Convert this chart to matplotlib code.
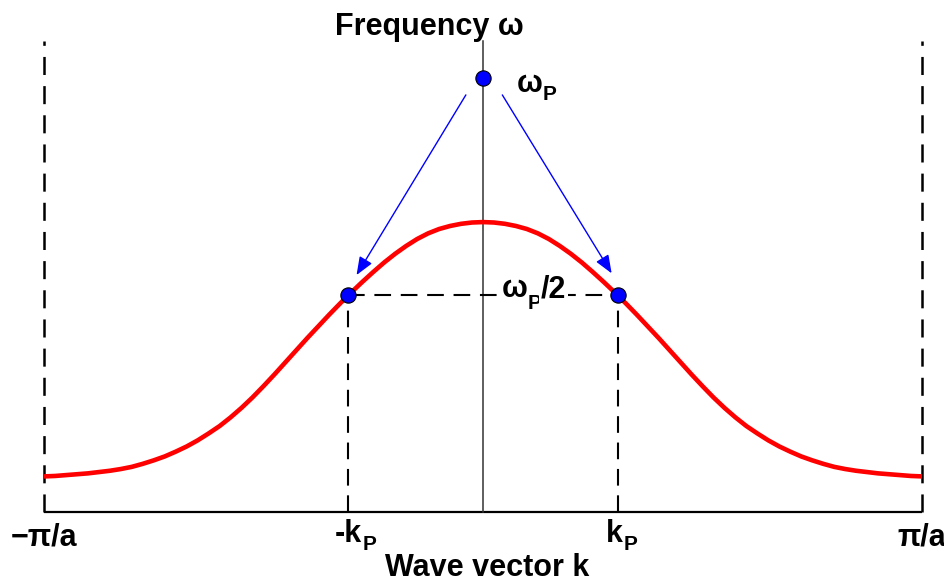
import matplotlib
matplotlib.use("Agg")
import matplotlib.pyplot as plt
from matplotlib.transforms import offset_copy

plt.rcParams["font.family"] = ["Liberation Sans", "DejaVu Sans"]
plt.rcParams["font.weight"] = "bold"
plt.rcParams["lines.scale_dashes"] = False

# Dispersion curve: wave vector in units of pi/a, frequency in units of omega_P
k = [-1.000, -0.975, -0.950, -0.925, -0.900, -0.875, -0.850, -0.825, -0.800, -0.775,
     -0.750, -0.725, -0.700, -0.675, -0.650, -0.625, -0.600, -0.575, -0.550, -0.525,
     -0.500, -0.475, -0.450, -0.425, -0.400, -0.375, -0.350, -0.325, -0.300, -0.275,
     -0.250, -0.225, -0.200, -0.175, -0.150, -0.125, -0.100, -0.075, -0.050, -0.025,
     0.000,
     0.025, 0.050, 0.075, 0.100, 0.125, 0.150, 0.175, 0.200, 0.225, 0.250,
     0.275, 0.300, 0.325, 0.350, 0.375, 0.400, 0.425, 0.450, 0.475, 0.500,
     0.525, 0.550, 0.575, 0.600, 0.625, 0.650, 0.675, 0.700, 0.725, 0.750,
     0.775, 0.800, 0.825, 0.850, 0.875, 0.900, 0.925, 0.950, 0.975, 1.000]
omega = [0.082, 0.083, 0.085, 0.087, 0.089, 0.092, 0.095, 0.099, 0.104, 0.111,
         0.119, 0.128, 0.139, 0.151, 0.165, 0.181, 0.198, 0.218, 0.240, 0.264,
         0.290, 0.317, 0.345, 0.373, 0.401, 0.428, 0.455, 0.481, 0.506, 0.530,
         0.553, 0.575, 0.595, 0.613, 0.629, 0.642, 0.652, 0.659, 0.664, 0.667,
         0.668,
         0.667, 0.664, 0.659, 0.652, 0.642, 0.629, 0.613, 0.595, 0.575, 0.553,
         0.530, 0.506, 0.481, 0.455, 0.428, 0.401, 0.373, 0.345, 0.317, 0.290,
         0.264, 0.240, 0.218, 0.198, 0.181, 0.165, 0.151, 0.139, 0.128, 0.119,
         0.111, 0.104, 0.099, 0.095, 0.092, 0.089, 0.087, 0.085, 0.083, 0.082]

k_P = 0.308
omega_P = 1.0
zone_edge = 1.0

fig = plt.figure(figsize=(9.45, 5.82), dpi=100)
ax = fig.add_axes([0, 0, 1, 1])
ax.set_xlim(-1.1002, 1.0524)
ax.set_ylim(-0.1613, 1.1797)
ax.axis("off")
renderer = fig.canvas.get_renderer()

top = 1.085

# frame: k axis, omega axis, zone boundaries
ax.plot([-zone_edge, zone_edge], [0, 0], color="black", lw=1.6, zorder=2,
        solid_capstyle="butt")
ax.plot([0, 0], [0, top], color="#333333", lw=1.1, zorder=2)
for edge in (-zone_edge, zone_edge):
    ax.plot([edge, edge], [0, top], color="black", lw=1.8,
            dashes=(13, 8), zorder=2)

# guide lines at half plasma frequency
ax.plot([-k_P, k_P], [omega_P / 2, omega_P / 2], color="black", lw=1.5,
        dashes=(12, 7), zorder=2)
for kk in (-k_P, k_P):
    ax.plot([kk, kk], [0, omega_P / 2], color="black", lw=1.5,
            dashes=(12, 7), zorder=2)

# dispersion curve
ax.plot(k, omega, color="#ff0000", lw=3.3, zorder=3,
        solid_capstyle="butt", solid_joinstyle="round")

# decay arrows
arrow = dict(arrowstyle="-|>,head_length=0.55,head_width=0.22",
             color="#0000ff", lw=1.0, mutation_scale=20,
             shrinkA=0, shrinkB=0)
ax.annotate("", xy=(-0.288, 0.546), xytext=(-0.039, 0.961), arrowprops=arrow,
            zorder=4)
ax.annotate("", xy=(0.293, 0.550), xytext=(0.044, 0.961), arrowprops=arrow,
            zorder=4)

# states
ax.plot([0, -k_P, k_P], [omega_P, omega_P / 2, omega_P / 2], "o",
        color="#0000ff", markersize=11, markeredgecolor="black",
        markeredgewidth=0.8, zorder=5)


def rich_label(x, y, parts, box=False):
    """Draw a run of text pieces left to right; each piece is
    (text, fontsize, baseline drop in px, gap before in px)."""
    dx = 0.0
    for s, size, drop, gap in parts:
        dx += gap
        tr = offset_copy(ax.transData, fig=fig, x=dx, y=-drop, units="dots")
        kw = {}
        if box:
            kw["bbox"] = dict(facecolor="white", edgecolor="none", pad=1.0)
        t = ax.text(x, y, s, fontsize=size, fontweight="bold", ha="left",
                    va="baseline", transform=tr, zorder=4, **kw)
        dx += t.get_window_extent(renderer).width


fs = 22
sub = 15
ax.text(-0.121, 1.099, "Frequency ω", ha="center", va="baseline",
        fontsize=fs, fontweight="bold")
rich_label(0.0774, 0.968, [("ω", fs, 0, 0), ("P", sub, 8, 0)])
rich_label(0.0433, 0.495, [("ω", fs, 0, 0), ("P", sub, 12, 0),
                           ("/2", fs, 0, -1)], box=True)

ax.text(-zone_edge, -0.078, "−π/a", ha="center", va="baseline",
        fontsize=fs, fontweight="bold")
ax.text(zone_edge, -0.078, "π/a", ha="center", va="baseline",
        fontsize=fs, fontweight="bold")
rich_label(-0.337, -0.069, [("-k", fs, 0, 0), ("P", sub, 8, 0)])
rich_label(0.280, -0.069, [("k", fs, 0, 0), ("P", sub, 8, 1)])
ax.text(0.009, -0.147, "Wave vector k", ha="center", va="baseline",
        fontsize=fs, fontweight="bold")

fig.savefig("out.png", dpi=100)
